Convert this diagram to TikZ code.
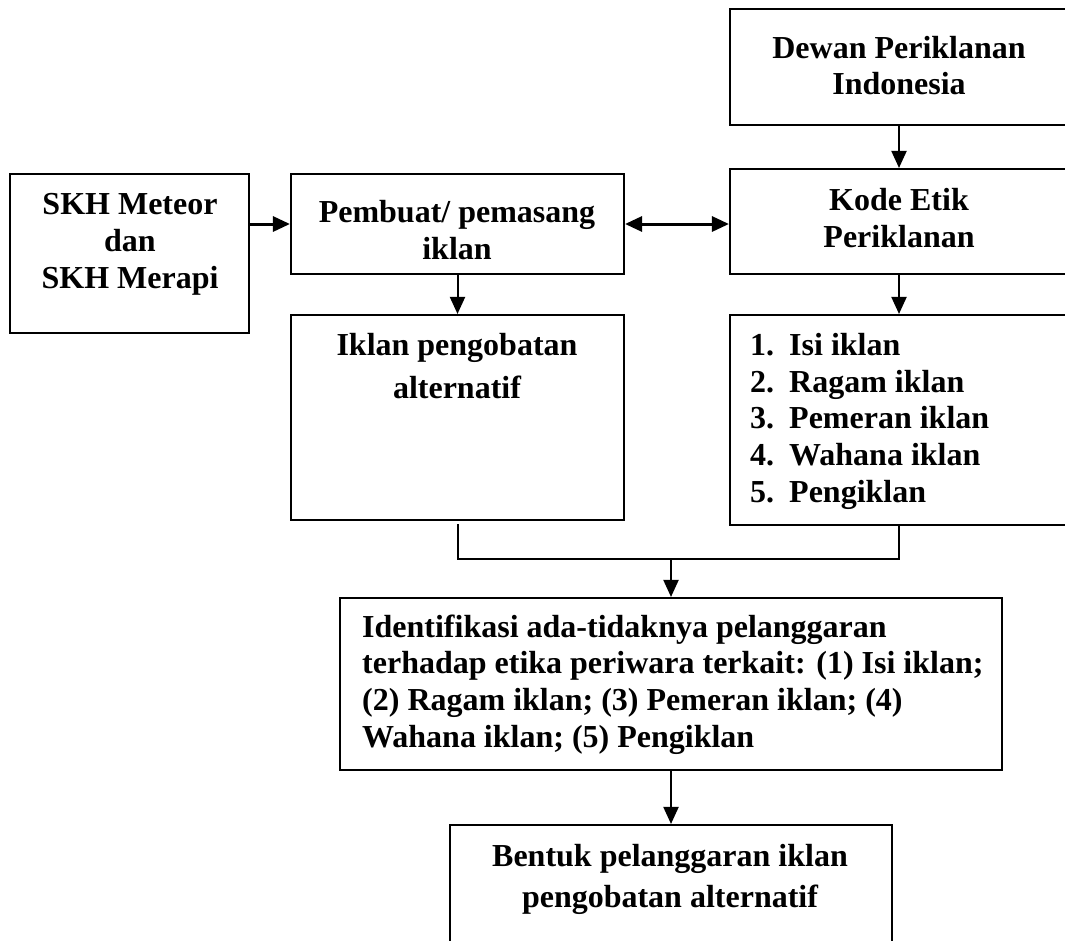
\documentclass[tikz,border=0pt]{standalone}
\usepackage{fontspec}
\setmainfont{Liberation Serif}
\usetikzlibrary{arrows.meta}
\begin{document}
\begin{tikzpicture}[x=1pt,y=-1pt,
  box/.style={draw, line width=2.1pt, inner sep=0pt},
  txt/.style={anchor=base, inner sep=0pt, font=\fontsize{32}{37}\selectfont\bfseries},
  ltxt/.style={txt, anchor=base west},
  arr/.style={line width=2pt, -{Triangle[length=17pt,width=15pt]}},
  harr/.style={line width=3pt, -{Triangle[length=17pt,width=15pt]}},
  dharr/.style={line width=3pt, {Triangle[length=17pt,width=15pt]}-{Triangle[length=17pt,width=15pt]}},
  bus/.style={line width=2pt}
]
\useasboundingbox (0,0) rectangle (1065,940);
\fill[white] (0,0) rectangle (1065,940);
\clip (0,0) rectangle (1065,940);

% boxes
\node[box, minimum width=239pt, minimum height=159pt] (skh)    at (129.5,253.5) {};
\node[box, minimum width=333pt, minimum height=100pt] (pemb)   at (457.5,224)   {};
\node[box, minimum width=338pt, minimum height=116pt] (dewan)  at (899,67)      {};
\node[box, minimum width=338pt, minimum height=105pt] (kode)   at (899,221.5)   {};
\node[box, minimum width=333pt, minimum height=205pt] (iklan)  at (457.5,417.5) {};
\node[box, minimum width=338pt, minimum height=210pt] (list)   at (899,420)     {};
\node[box, minimum width=662pt, minimum height=172pt] (ident)  at (671,684)     {};
\node[box, minimum width=442pt, minimum height=150pt] (bentuk) at (671,900)     {};

% texts
\node[txt] (dw1) at (899,58)  {Dewan Periklanan};
\node[txt] (dw2) at (899,94)  {Indonesia};
\node[txt] (sk1) at (130,214) {SKH Meteor};
\node[txt] (sk2) at (130,251) {dan};
\node[txt] (sk3) at (130,288) {SKH Merapi};
\node[txt] (pb1) at (457,222) {Pembuat/ pemasang};
\node[txt] (pb2) at (457,259) {iklan};
\node[txt] (ko1) at (899,210) {Kode Etik};
\node[txt] (ko2) at (899,247) {Periklanan};
\node[txt] (ik1) at (457,355) {Iklan pengobatan};
\node[txt] (ik2) at (457,398) {alternatif};
\node[ltxt] (ln1) at (750,355) {1.};
\node[ltxt] (lt1) at (789,355) {Isi iklan};
\node[ltxt] (ln2) at (750,392) {2.};
\node[ltxt] (lt2) at (789,392) {Ragam iklan};
\node[ltxt] (ln3) at (750,428) {3.};
\node[ltxt] (lt3) at (789,428) {Pemeran iklan};
\node[ltxt] (ln4) at (750,465) {4.};
\node[ltxt] (lt4) at (789,465) {Wahana iklan};
\node[ltxt] (ln5) at (750,502) {5.};
\node[ltxt] (lt5) at (789,502) {Pengiklan};
\node[ltxt] (id1) at (362,637) {Identifikasi ada-tidaknya pelanggaran};
\node[ltxt] (id2) at (362,673) {terhadap etika periwara terkait: (1) Isi iklan;};
\node[ltxt] (id3) at (362,710) {(2) Ragam iklan; (3) Pemeran iklan; (4)};
\node[ltxt] (id4) at (362,747) {Wahana iklan; (5) Pengiklan};
\node[txt] (bt1) at (670,866) {Bentuk pelanggaran iklan};
\node[txt] (bt2) at (670,907) {pengobatan alternatif};

% connectors
\draw[arr] (dewan.south) -- (kode.north);
\draw[arr] (pemb.south) -- (iklan.north);
\draw[arr] (kode.south) -- (list.north);
\draw[harr] (skh.east |- pemb.west) -- (pemb.west);
\draw[dharr] (pemb.east) -- (pemb.east -| kode.west);
\coordinate (bus) at (671,559);
\draw[bus] ([yshift=-3pt]iklan.south) |- (bus) -| (list.south);
\draw[arr] (bus) -- (ident.north);
\draw[arr] (ident.south) -- (bentuk.north);
\end{tikzpicture}
\end{document}
